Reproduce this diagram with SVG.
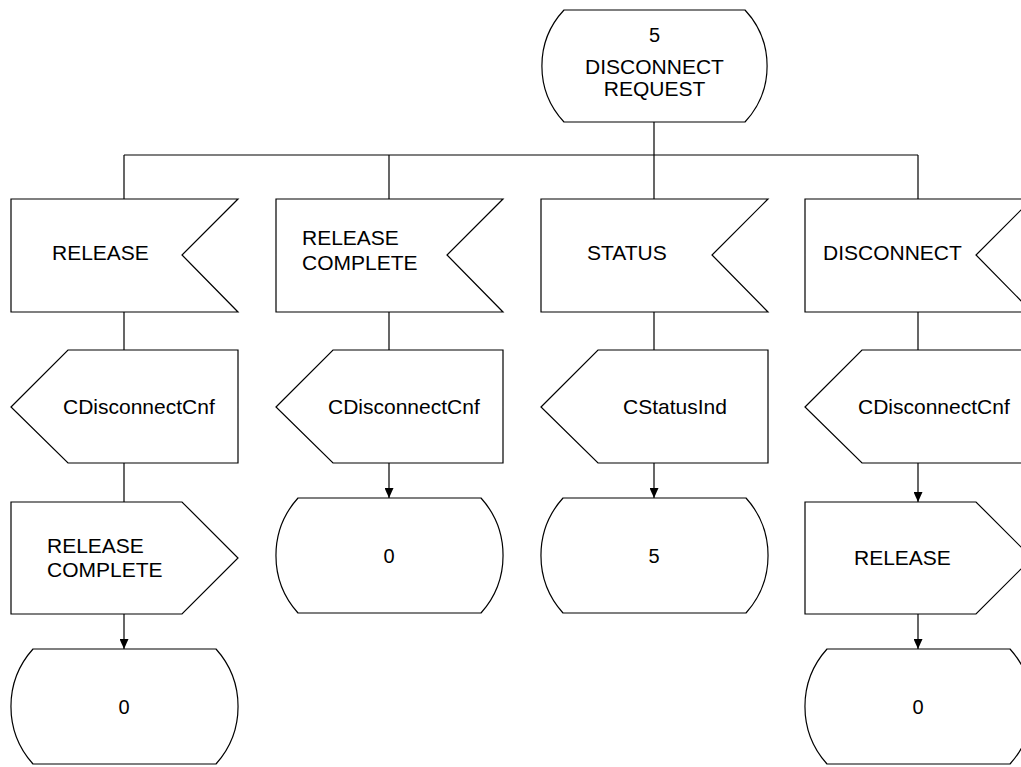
<svg xmlns="http://www.w3.org/2000/svg" width="1021" height="767" viewBox="0 0 1021 767">
  <style>
    .shape { fill: #ffffff; stroke: #000000; stroke-width: 1.2; stroke-linejoin: miter; }
    .wire { fill: none; stroke: #000000; stroke-width: 1.2; }
    .label { font-family: "Liberation Sans", Arial, sans-serif; font-size: 21px; fill: #000000; }
    .num { font-family: "Liberation Sans", Arial, sans-serif; font-size: 20px; fill: #000000; text-anchor: middle; }
    .mid { text-anchor: middle; }
  </style>
  <defs>
    <marker id="arrow" markerWidth="10" markerHeight="9" refX="10" refY="4.5" orient="auto" markerUnits="userSpaceOnUse">
      <path d="M0,0 L10,4.5 L0,9 Z" fill="#000000"/>
    </marker>
  </defs>
  <rect x="0" y="0" width="1021" height="767" fill="#ffffff"/>

  <!-- connectors -->
  <g id="connectors">
    <path class="wire" d="M654,122 V155"/>
    <path class="wire" d="M124,155 H918"/>
    <path class="wire" d="M124,155 V199"/>
    <path class="wire" d="M389,155 V199"/>
    <path class="wire" d="M654,155 V199"/>
    <path class="wire" d="M918,155 V199"/>
    <!-- column 1 -->
    <path class="wire" d="M124,312 V350"/>
    <path class="wire" d="M124,463 V502"/>
    <path class="wire" d="M124,614 V649" marker-end="url(#arrow)"/>
    <!-- column 2 -->
    <path class="wire" d="M389,312 V350"/>
    <path class="wire" d="M389,463 V498" marker-end="url(#arrow)"/>
    <!-- column 3 -->
    <path class="wire" d="M654,312 V350"/>
    <path class="wire" d="M654,463 V498" marker-end="url(#arrow)"/>
    <!-- column 4 -->
    <path class="wire" d="M918,312 V350"/>
    <path class="wire" d="M918,463 V502" marker-end="url(#arrow)"/>
    <path class="wire" d="M918,614 V649" marker-end="url(#arrow)"/>
  </g>

  <!-- start state -->
  <g id="state-disconnect-request">
    <path class="shape" d="M564,10 H745 A82,82 0 0 1 745,122 H564 A82,82 0 0 1 564,10 Z"/>
    <text class="label mid" x="654.5" y="42" style="font-size:20px">5</text>
    <text class="label mid" x="654.5" y="74">DISCONNECT</text>
    <text class="label mid" x="654.5" y="96">REQUEST</text>
  </g>

  <!-- column 1 -->
  <g id="in-release">
    <path class="shape" d="M11,199 H238 L182,255 L238,312 H11 Z"/>
    <text class="label" x="52" y="260">RELEASE</text>
  </g>
  <g id="out-cdisconnectcnf-1">
    <path class="shape" d="M11,407 L68,350 H238 V463 H68 Z"/>
    <text class="label" x="63" y="414">CDisconnectCnf</text>
  </g>
  <g id="out-release-complete">
    <path class="shape" d="M11,502 H182 L238,558 L182,614 H11 Z"/>
    <text class="label" x="47" y="553">RELEASE</text>
    <text class="label" x="47" y="577">COMPLETE</text>
  </g>
  <g id="state-0-a">
    <path class="shape" d="M33,649 H216 A86,86 0 0 1 216,764 H33 A86,86 0 0 1 33,649 Z"/>
    <text class="num" x="124" y="714">0</text>
  </g>

  <!-- column 2 -->
  <g id="in-release-complete">
    <path class="shape" d="M276,199 H503 L447,255 L503,312 H276 Z"/>
    <text class="label" x="302" y="245">RELEASE</text>
    <text class="label" x="302" y="270">COMPLETE</text>
  </g>
  <g id="out-cdisconnectcnf-2">
    <path class="shape" d="M276,407 L333,350 H503 V463 H333 Z"/>
    <text class="label" x="328" y="414">CDisconnectCnf</text>
  </g>
  <g id="state-0-b">
    <path class="shape" d="M298,498 H481 A86,86 0 0 1 481,613 H298 A86,86 0 0 1 298,498 Z"/>
    <text class="num" x="389" y="563">0</text>
  </g>

  <!-- column 3 -->
  <g id="in-status">
    <path class="shape" d="M541,199 H768 L712,255 L768,312 H541 Z"/>
    <text class="label" x="587" y="260">STATUS</text>
  </g>
  <g id="out-cstatusind">
    <path class="shape" d="M541,407 L598,350 H768 V463 H598 Z"/>
    <text class="label" x="623" y="414">CStatusInd</text>
  </g>
  <g id="state-5">
    <path class="shape" d="M563,498 H746 A86,86 0 0 1 746,613 H563 A86,86 0 0 1 563,498 Z"/>
    <text class="num" x="654" y="563">5</text>
  </g>

  <!-- column 4 -->
  <g id="in-disconnect">
    <path class="shape" d="M805,199 H1032 L976,255 L1032,312 H805 Z"/>
    <text class="label" x="823" y="260">DISCONNECT</text>
  </g>
  <g id="out-cdisconnectcnf-4">
    <path class="shape" d="M805,407 L862,350 H1032 V463 H862 Z"/>
    <text class="label" x="858" y="414">CDisconnectCnf</text>
  </g>
  <g id="out-release">
    <path class="shape" d="M805,502 H976 L1032,558 L976,614 H805 Z"/>
    <text class="label" x="854" y="565">RELEASE</text>
  </g>
  <g id="state-0-c">
    <path class="shape" d="M827,649 H1010 A86,86 0 0 1 1010,764 H827 A86,86 0 0 1 827,649 Z"/>
    <text class="num" x="918" y="714">0</text>
  </g>
</svg>
